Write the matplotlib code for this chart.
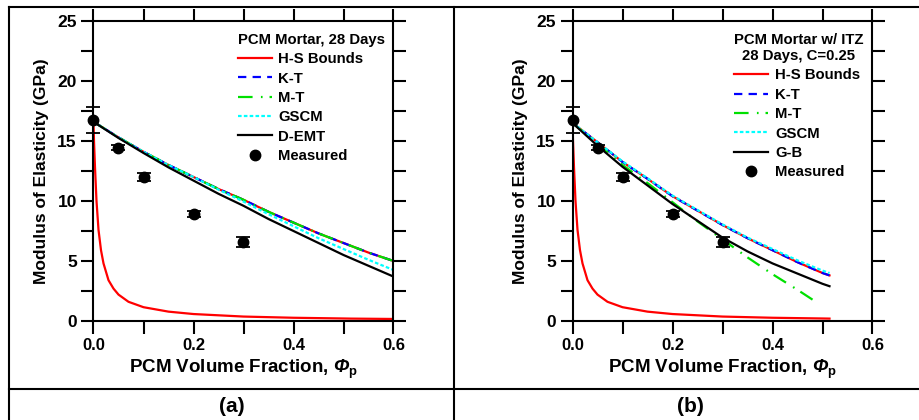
import matplotlib
matplotlib.use("Agg")
import matplotlib.pyplot as plt
from matplotlib.lines import Line2D
from matplotlib.ticker import MultipleLocator

plt.rcParams['font.family'] = ['Liberation Sans', 'DejaVu Sans']
plt.rcParams['font.weight'] = 'bold'
plt.rcParams['lines.scale_dashes'] = False
plt.rcParams['mathtext.fontset'] = 'custom'
# 'rm' is used for the bold-italic Greek capital, 'bf' for the upright subscript
plt.rcParams['mathtext.rm'] = 'Liberation Sans:italic:bold'
plt.rcParams['mathtext.it'] = 'Liberation Sans:italic:bold'
plt.rcParams['mathtext.bf'] = 'Liberation Sans:bold'

# ---------------- data ----------------
# measured values (same in both panels)
meas_x = [0.0, 0.05, 0.1, 0.2, 0.3]
meas_y = [16.75, 14.45, 12.0, 8.9, 6.6]
meas_err = [1.05, 0.2, 0.3, 0.25, 0.4]

# H-S lower bound (both panels)
hs_low_x = [0.0, 0.001, 0.003, 0.006, 0.01, 0.015, 0.02, 0.03, 0.04, 0.05, 0.07,
            0.1, 0.15, 0.2, 0.3, 0.4, 0.5, 0.514, 0.6]
hs_low_y = [16.6, 15.0, 12.8, 10.0, 7.6, 5.9, 4.8, 3.4, 2.7, 2.2, 1.6,
            1.15, 0.78, 0.58, 0.37, 0.27, 0.21, 0.20, 0.17]

# panel (a): PCM Mortar, 28 Days
a_x = [0.0, 0.05, 0.1, 0.15, 0.2, 0.25, 0.3, 0.35, 0.4, 0.45, 0.5, 0.55, 0.6]
a_upper = [16.6, 15.3, 14.1, 13.0, 12.0, 11.0, 10.1, 9.1, 8.2, 7.3, 6.5, 5.7, 5.0]
a_kt = [16.6, 15.3, 14.1, 13.0, 12.0, 11.0, 10.1, 9.1, 8.2, 7.3, 6.5, 5.7, 5.0]
a_mt = [16.6, 15.3, 14.1, 13.0, 12.0, 11.0, 10.1, 9.1, 8.2, 7.3, 6.5, 5.7, 5.0]
a_gscm = [16.6, 15.3, 14.1, 13.0, 12.0, 10.95, 9.95, 8.9, 7.9, 6.9, 6.0, 5.1, 4.25]
a_demt = [16.6, 15.25, 14.0, 12.8, 11.7, 10.6, 9.6, 8.5, 7.5, 6.5, 5.5, 4.6, 3.7]

# panel (b): PCM Mortar w/ ITZ, 28 Days, C=0.25
b_x = [0.0, 0.05, 0.1, 0.15, 0.2, 0.25, 0.3, 0.35, 0.4, 0.45, 0.5, 0.514]
b_upper = [16.5, 14.9, 13.25, 11.85, 10.4, 9.2, 8.0, 6.9, 5.9, 4.9, 4.0, 3.8]
b_kt = [16.5, 14.9, 13.25, 11.85, 10.4, 9.2, 8.0, 6.9, 5.9, 4.9, 4.0, 3.8]
b_gscm = [16.5, 14.9, 13.3, 11.9, 10.45, 9.25, 8.05, 6.95, 6.0, 5.05, 4.2, 4.0]
b_gb = [16.5, 14.6, 12.85, 11.3, 9.75, 8.35, 6.95, 5.8, 4.8, 3.95, 3.1, 2.9]
mt_x = [0.0, 0.05, 0.1, 0.15, 0.2, 0.25, 0.3, 0.35, 0.4, 0.45, 0.483]
b_mt = [16.5, 14.8, 13.0, 11.5, 9.9, 8.3, 6.8, 5.3, 3.9, 2.6, 1.7]

x_ticks = [0.0, 0.2, 0.4, 0.6]
x_ticklabels = ['0.0', '0.2', '0.4', '0.6']
y_ticks = [0, 5, 10, 15, 20, 25]

# ---------------- styles ----------------
LW = 1.6
KT_DASH = (0, (6, 4.5))
MT_DASH = (0, (10.5, 6, 1.2, 5))
GS_DASH = (0, (2.6, 1.6))
GREEN = '#00e000'

W, H = 920, 420
fig = plt.figure(figsize=(W / 100, H / 100), dpi=100)


def px_axes(left, right, top, bottom):
    return fig.add_axes([left / W, 1 - bottom / H, (right - left) / W, (bottom - top) / H])


def style_axes(ax):
    ax.set_xlim(0, 0.6)
    ax.set_ylim(0, 25)
    ax.set_xticks(x_ticks)
    ax.set_xticklabels(x_ticklabels, fontsize=12, fontweight='bold')
    ax.xaxis.set_minor_locator(MultipleLocator(0.1))
    ax.set_yticks(y_ticks)
    ax.yaxis.set_minor_locator(MultipleLocator(2.5))
    for lab in ax.get_yticklabels():
        lab.set_fontsize(12.5)
        lab.set_fontweight('bold')
    ax.tick_params(which='both', direction='out', length=9, width=1.5,
                   top=True, right=True, pad=3)
    for s in ax.spines.values():
        s.set_linewidth(1.5)
    ax.set_ylabel('Modulus of Elasticity (GPa)', fontsize=12.5, fontweight='bold', labelpad=6)
    ax.set_xlabel('PCM Volume Fraction, $\\mathrm{\u03A6}_{\\mathbf{p}}$',
                  fontsize=13.5, fontweight='bold', labelpad=4)


def meas(ax):
    ax.errorbar(meas_x, meas_y, yerr=meas_err, fmt='o', color='black', ms=7.5,
                ecolor='black', elinewidth=1.3, capsize=4.8, capthick=1.3, zorder=6,
                clip_on=False)


def legend_handles():
    return [
        Line2D([], [], color='red', lw=LW),
        Line2D([], [], color='blue', lw=LW, linestyle=KT_DASH),
        Line2D([], [], color=GREEN, lw=LW, linestyle=MT_DASH),
        Line2D([], [], color='cyan', lw=LW, linestyle=GS_DASH),
        Line2D([], [], color='black', lw=LW),
        Line2D([], [], color='black', marker='o', ms=7.5, linestyle='none'),
    ]


def add_legend(ax, labels, title):
    leg = ax.legend(legend_handles(), labels, title=title, loc='upper right',
                    bbox_to_anchor=(1.0, 0.99), frameon=False, fontsize=10.7,
                    title_fontproperties={'size': 10.7, 'weight': 'bold'},
                    handlelength=2.3, handletextpad=0.45, labelspacing=0.36,
                    borderaxespad=0.2, alignment='left')
    leg.get_title().set_multialignment('center')
    for t in leg.get_texts():
        t.set_fontweight('bold')
    return leg


# ---------------- panel (a) ----------------
ax1 = px_axes(93.5, 393.5, 21, 321)
ax1.plot(hs_low_x, hs_low_y, color='red', lw=LW)
ax1.plot(a_x, a_upper, color='red', lw=LW)
ax1.plot(a_x, a_kt, color='blue', lw=LW, linestyle=KT_DASH)
ax1.plot(a_x, a_mt, color=GREEN, lw=LW, linestyle=MT_DASH)
ax1.plot(a_x, a_gscm, color='cyan', lw=LW, linestyle=GS_DASH)
ax1.plot(a_x, a_demt, color='black', lw=LW)
meas(ax1)
style_axes(ax1)
add_legend(ax1, ['H-S Bounds', 'K-T', 'M-T', 'GSCM', 'D-EMT', 'Measured'],
           'PCM Mortar, 28 Days')

# ---------------- panel (b) ----------------
ax2 = px_axes(572.5, 872.5, 21, 321)
ax2.plot(hs_low_x[:-1], hs_low_y[:-1], color='red', lw=LW)
ax2.plot(b_x, b_upper, color='red', lw=LW)
ax2.plot(b_x, b_kt, color='blue', lw=LW, linestyle=KT_DASH)
ax2.plot(mt_x, b_mt, color=GREEN, lw=LW, linestyle=MT_DASH)
ax2.plot(b_x, b_gscm, color='cyan', lw=LW, linestyle=GS_DASH)
ax2.plot(b_x, b_gb, color='black', lw=LW)
meas(ax2)
style_axes(ax2)
add_legend(ax2, ['H-S Bounds', 'K-T', 'M-T', 'GSCM', 'G-B', 'Measured'],
           'PCM Mortar w/ ITZ\n28 Days, C=0.25')

# ---------------- table frame ----------------
def fline(x0, y0, x1, y1):
    fig.add_artist(Line2D([x0 / W, x1 / W], [1 - y0 / H, 1 - y1 / H],
                          transform=fig.transFigure, color='black', lw=1.5))

fline(9, 7.3, 9, 420)
fline(9, 7.3, 920, 7.3)
fline(454.3, 7.3, 454.3, 420)
fline(9, 389, 920, 389)

fig.text(231.5 / W, 1 - 407 / H, '(a)', ha='center', va='center',
         fontsize=15, fontweight='bold')
fig.text(690 / W, 1 - 407 / H, '(b)', ha='center', va='center',
         fontsize=15, fontweight='bold')

fig.savefig('out.png', dpi=100)
